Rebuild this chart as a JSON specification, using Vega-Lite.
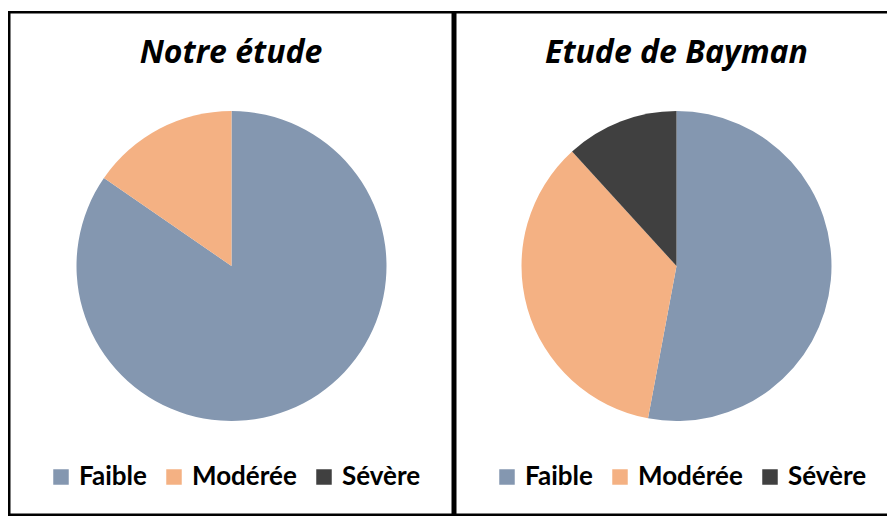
{
  "$schema": "https://vega.github.io/schema/vega-lite/v6.json",
  "padding": {"left": 8, "top": 11, "right": 0, "bottom": 1},
  "background": "white",
  "datasets": {
    "gravite": [
      {"etude": "Notre étude", "gravite": "Faible", "n": 11},
      {"etude": "Notre étude", "gravite": "Modérée", "n": 2},
      {"etude": "Notre étude", "gravite": "Sévère", "n": 0},
      {"etude": "Etude de Bayman", "gravite": "Faible", "n": 9},
      {"etude": "Etude de Bayman", "gravite": "Modérée", "n": 6},
      {"etude": "Etude de Bayman", "gravite": "Sévère", "n": 2}
    ],
    "cadre": [{"cadre": 1}]
  },
  "spacing": 0,
  "config": {
    "view": {"stroke": null},
    "concat": {"spacing": 0},
    "title": {"font": "Open Sans", "fontSize": 32, "fontWeight": "bold", "fontStyle": "italic", "color": "black", "baseline": "alphabetic", "offset": -59, "anchor": "middle"},
    "legend": {"orient": "none", "direction": "horizontal", "title": null, "padding": 0, "symbolType": "square", "symbolSize": 240, "symbolStrokeWidth": 0, "labelFont": "Lato", "labelFontSize": 26, "labelFontWeight": "bold", "labelColor": "black", "labelOffset": 5, "columnPadding": 14, "labelLimit": 300}
  },
  "resolve": {"scale": {"color": "independent"}},
  "hconcat": [
    {
      "width": 446,
      "height": 505,
      "title": {"text": "Notre étude"},
      "layer": [
        {
          "data": {"name": "cadre"},
          "mark": {"type": "rect", "fill": null, "stroke": "black", "strokeWidth": 5, "clip": true},
          "encoding": {"x": {"value": 0}, "x2": {"value": "width"}, "y": {"value": 0}, "y2": {"value": "height"}}
        },
        {
          "data": {"name": "gravite"},
          "transform": [{"filter": "datum.etude === 'Notre étude'"}],
          "mark": {"type": "arc", "radius": 155, "yOffset": 2.5, "xOffset": 0.5},
          "encoding": {
            "theta": {"field": "n", "type": "quantitative", "stack": true},
            "order": {"field": "gravite"},
            "color": {"field": "gravite", "type": "nominal",
              "scale": {"domain": ["Faible", "Modérée", "Sévère"], "range": ["#8497B0", "#F4B183", "#404040"]},
              "legend": {"legendX": 40, "legendY": 453}}
          }
        }
      ]
    },
    {
      "width": 433,
      "height": 505,
      "title": {"text": "Etude de Bayman", "dx": 6},
      "layer": [
        {
          "data": {"name": "cadre"},
          "mark": {"type": "rect", "fill": null, "stroke": "black", "strokeWidth": 5, "clip": true, "x2Offset": 8},
          "encoding": {"x": {"value": 0}, "x2": {"value": "width"}, "y": {"value": 0}, "y2": {"value": "height"}}
        },
        {
          "data": {"name": "gravite"},
          "transform": [{"filter": "datum.etude === 'Etude de Bayman'"}],
          "mark": {"type": "arc", "radius": 155, "yOffset": 2.5, "xOffset": 6},
          "encoding": {
            "theta": {"field": "n", "type": "quantitative", "stack": true},
            "order": {"field": "gravite"},
            "color": {"field": "gravite", "type": "nominal",
              "scale": {"domain": ["Faible", "Modérée", "Sévère"], "range": ["#8497B0", "#F4B183", "#404040"]},
              "legend": {"legendX": 40, "legendY": 453}}
          }
        }
      ]
    }
  ]
}
